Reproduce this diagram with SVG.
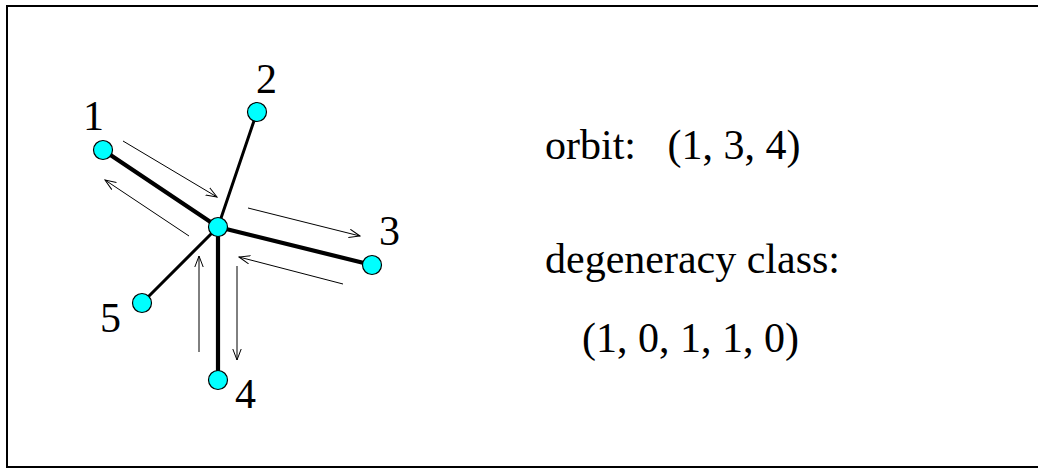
<svg xmlns="http://www.w3.org/2000/svg" width="1038" height="470" viewBox="0 0 1038 470">
  <defs>
    <marker id="open-head" viewBox="0 0 12 10" refX="11" refY="5" markerWidth="12" markerHeight="10" markerUnits="userSpaceOnUse" orient="auto">
      <path d="M0,0.8 L11,5 L0,9.2" fill="none" stroke="#000" stroke-width="1"/>
    </marker>
    <style>
      .frame { fill: #fff; stroke: #000; stroke-width: 2; }
      .edge { stroke: #000; stroke-width: 3; stroke-linecap: round; }
      .edge.orbit { stroke-width: 4.2; }
      .walk { stroke: #000; stroke-width: 1; fill: none; marker-end: url(#open-head); }
      .vertex { fill: #00ffff; stroke: #000; stroke-width: 1.2; }
      .label { font-family: "Liberation Serif", "Times New Roman", serif; font-size: 42px; fill: #000; }
    </style>
  </defs>

  <rect class="frame" x="7" y="6" width="1040" height="461"/>

  <!-- tree edges (orbit edges drawn heavier) and walk arrows -->
  <g id="connectors">
    <line class="edge orbit" x1="218" y1="227" x2="103" y2="150"/>
    <line class="edge" x1="218" y1="227" x2="257" y2="112"/>
    <line class="edge orbit" x1="218" y1="227" x2="372" y2="265"/>
    <line class="edge orbit" x1="218" y1="227" x2="218" y2="380"/>
    <line class="edge" x1="218" y1="227" x2="142" y2="303"/>

    <line class="walk" x1="123" y1="141" x2="217" y2="197"/>
    <line class="walk" x1="189" y1="236" x2="105" y2="180"/>
    <line class="walk" x1="248" y1="208" x2="360" y2="236"/>
    <line class="walk" x1="343" y1="284" x2="239" y2="257"/>
    <line class="walk" x1="199" y1="352" x2="199" y2="256"/>
    <line class="walk" x1="237" y1="266" x2="237" y2="360"/>
  </g>

  <g id="node-center"><circle class="vertex" cx="218" cy="227" r="9.5"/></g>
  <g id="node-1"><circle class="vertex" cx="103" cy="150" r="9.5"/><text class="label" x="83" y="130">1</text></g>
  <g id="node-2"><circle class="vertex" cx="257" cy="112" r="9.5"/><text class="label" x="256" y="93">2</text></g>
  <g id="node-3"><circle class="vertex" cx="372" cy="265" r="9.5"/><text class="label" x="379" y="245">3</text></g>
  <g id="node-4"><circle class="vertex" cx="218" cy="380" r="9.5"/><text class="label" x="235" y="408">4</text></g>
  <g id="node-5"><circle class="vertex" cx="142" cy="303" r="9.5"/><text class="label" x="100" y="332">5</text></g>

  <g id="info">
    <text class="label" x="545" y="159" xml:space="preserve">orbit:   (1, 3, 4)</text>
    <text class="label" x="545" y="273">degeneracy class:</text>
    <text class="label" x="582" y="352">(1, 0, 1, 1, 0)</text>
  </g>
</svg>
